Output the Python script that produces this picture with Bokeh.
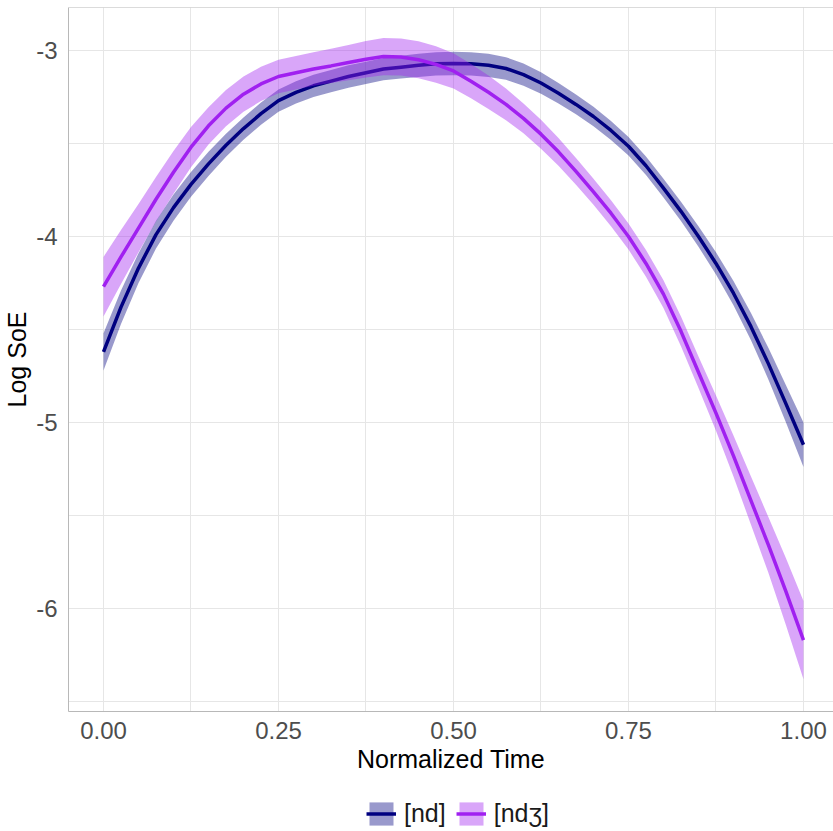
from bokeh.plotting import figure
from bokeh.layouts import column
from bokeh.models import Range1d, FixedTicker, Legend, LegendItem, Span
from bokeh.embed import file_html
from bokeh.resources import INLINE

# ---- data ----
time = [0.000, 0.025, 0.050, 0.075, 0.100, 0.125, 0.150, 0.175, 0.200, 0.225,
        0.250, 0.275, 0.300, 0.325, 0.350, 0.375, 0.400, 0.425, 0.450, 0.475,
        0.500, 0.525, 0.550, 0.575, 0.600, 0.625, 0.650, 0.675, 0.700, 0.725,
        0.750, 0.775, 0.800, 0.825, 0.850, 0.875, 0.900, 0.925, 0.950, 0.975,
        1.000]

nd_fit = [-4.62, -4.38, -4.17, -3.99, -3.845, -3.72, -3.61, -3.51, -3.42, -3.34,
          -3.27, -3.225, -3.19, -3.165, -3.14, -3.12, -3.10, -3.09, -3.08, -3.072,
          -3.07, -3.072, -3.08, -3.097, -3.13, -3.175, -3.23, -3.29, -3.355, -3.43,
          -3.515, -3.62, -3.74, -3.865, -4.00, -4.145, -4.305, -4.485, -4.685, -4.90,
          -5.12]
nd_se = [0.10, 0.09, 0.08, 0.075, 0.07, 0.067, 0.065, 0.062, 0.06, 0.06,
         0.06, 0.06, 0.06, 0.06, 0.06, 0.06, 0.06, 0.061, 0.062, 0.063,
         0.063, 0.063, 0.062, 0.061, 0.06, 0.058, 0.055, 0.053, 0.052, 0.051,
         0.05, 0.05, 0.05, 0.052, 0.055, 0.06, 0.065, 0.073, 0.085, 0.10,
         0.12]

ndz_fit = [-4.27, -4.11, -3.955, -3.80, -3.655, -3.52, -3.405, -3.31, -3.235, -3.18,
           -3.14, -3.12, -3.10, -3.083, -3.065, -3.047, -3.033, -3.035, -3.05, -3.075,
           -3.11, -3.165, -3.225, -3.29, -3.365, -3.45, -3.545, -3.65, -3.76, -3.875,
           -4.00, -4.145, -4.31, -4.51, -4.73, -4.95, -5.18, -5.42, -5.66, -5.91,
           -6.17]
ndz_se = [0.16, 0.145, 0.13, 0.12, 0.115, 0.108, 0.10, 0.097, 0.095, 0.092,
          0.09, 0.09, 0.09, 0.092, 0.095, 0.098, 0.10, 0.10, 0.10, 0.098,
          0.095, 0.092, 0.09, 0.085, 0.08, 0.078, 0.075, 0.072, 0.07, 0.07,
          0.07, 0.072, 0.075, 0.08, 0.085, 0.095, 0.11, 0.13, 0.15, 0.18,
          0.21]

series_names = ["[nd]", "[nd\u0292]"]
line_colors = ["#000080", "#A020F0"]

x_ticks = [0.0, 0.25, 0.5, 0.75, 1.0]
x_tick_labels = ["0.00", "0.25", "0.50", "0.75", "1.00"]
x_minor = [0.125, 0.375, 0.625, 0.875]
y_ticks = [-6, -5, -4, -3]
y_tick_labels = ["-6", "-5", "-4", "-3"]
y_minor = [-6.5, -5.5, -4.5, -3.5]

x_title = "Normalized Time"
y_title = "Log SoE"

FONT = "Liberation Sans"
BORDER = "#B8B8B8"
GRID = "#E6E6E6"

y_top = -2.769
p = figure(width=833, height=785, output_backend="svg", toolbar_location=None,
           x_range=Range1d(-0.05, 1.0429), y_range=Range1d(-6.554, y_top),
           min_border_left=68, min_border_top=7, min_border_right=0,
           min_border_bottom=74)
p.outline_line_color = None
p.background_fill_color = "white"
p.border_fill_color = "white"

# axes
p.xaxis.ticker = FixedTicker(ticks=x_ticks, minor_ticks=x_minor)
p.yaxis.ticker = FixedTicker(ticks=y_ticks, minor_ticks=y_minor)
p.xaxis.major_label_overrides = {t: l for t, l in zip(x_ticks, x_tick_labels)}
p.yaxis.major_label_overrides = {t: l for t, l in zip(y_ticks, y_tick_labels)}
for ax in (p.xaxis[0], p.yaxis[0]):
    ax.axis_line_color = BORDER
    ax.axis_line_width = 1
    ax.major_tick_line_color = None
    ax.minor_tick_line_color = None
    ax.major_tick_out = 0
    ax.major_tick_in = 0
    ax.major_label_text_font = FONT
    ax.major_label_text_font_size = "24px"
    ax.major_label_text_color = "#4D4D4D"
    ax.axis_label_text_font = FONT
    ax.axis_label_text_font_size = "25px"
    ax.axis_label_text_font_style = "normal"
    ax.axis_label_text_color = "#000000"
p.xaxis.axis_label = x_title
p.yaxis.axis_label = y_title
p.xaxis.major_label_standoff = 6
p.yaxis.major_label_standoff = 7
p.xaxis.axis_label_standoff = 3
p.yaxis.axis_label_standoff = 2

# grids
for g in (p.xgrid[0], p.ygrid[0]):
    g.grid_line_color = GRID
    g.grid_line_width = 1
    g.minor_grid_line_color = GRID
    g.minor_grid_line_width = 1
p.xgrid.ticker = p.xaxis.ticker
p.ygrid.ticker = p.yaxis.ticker

# top border
p.add_layout(Span(location=y_top, dimension="width", line_color=BORDER, line_width=1))

for fit, se, col in zip([nd_fit, ndz_fit], [nd_se, ndz_se], line_colors):
    lower = [f - s for f, s in zip(fit, se)]
    upper = [f + s for f, s in zip(fit, se)]
    p.varea(x=time, y1=lower, y2=upper, fill_color=col, fill_alpha=0.4)
    p.line(x=time, y=fit, line_color=col, line_width=3.5)

# ---- legend strip below the plot ----
lg = figure(width=833, height=46, output_backend="svg", toolbar_location=None,
            x_range=Range1d(0, 1), y_range=Range1d(0, 1),
            x_axis_type=None, y_axis_type=None, min_border=0)
lg.grid.visible = False
lg.outline_line_color = None
lg.border_fill_color = "white"
items = []
for name, col in zip(series_names, line_colors):
    # key glyphs (kept outside the visible range; only the legend shows them)
    b = lg.varea(x=[5, 6], y1=[5, 5], y2=[6, 6], fill_color=col, fill_alpha=0.4)
    l = lg.line(x=[5, 6], y=[5.5, 5.5], line_color=col, line_width=3.5)
    items.append(LegendItem(label=name, renderers=[b, l]))

legend = Legend(items=items, orientation="horizontal", location=(298, 3),
                glyph_width=30, glyph_height=29, label_standoff=8, spacing=10,
                padding=0, margin=0, border_line_color=None,
                background_fill_alpha=0,
                label_text_font=FONT, label_text_font_size="25px",
                label_text_color="#1A1A1A")
lg.add_layout(legend, "center")

layout = column(p, lg, spacing=0)
open("out.html", "w").write(file_html(layout, INLINE))
